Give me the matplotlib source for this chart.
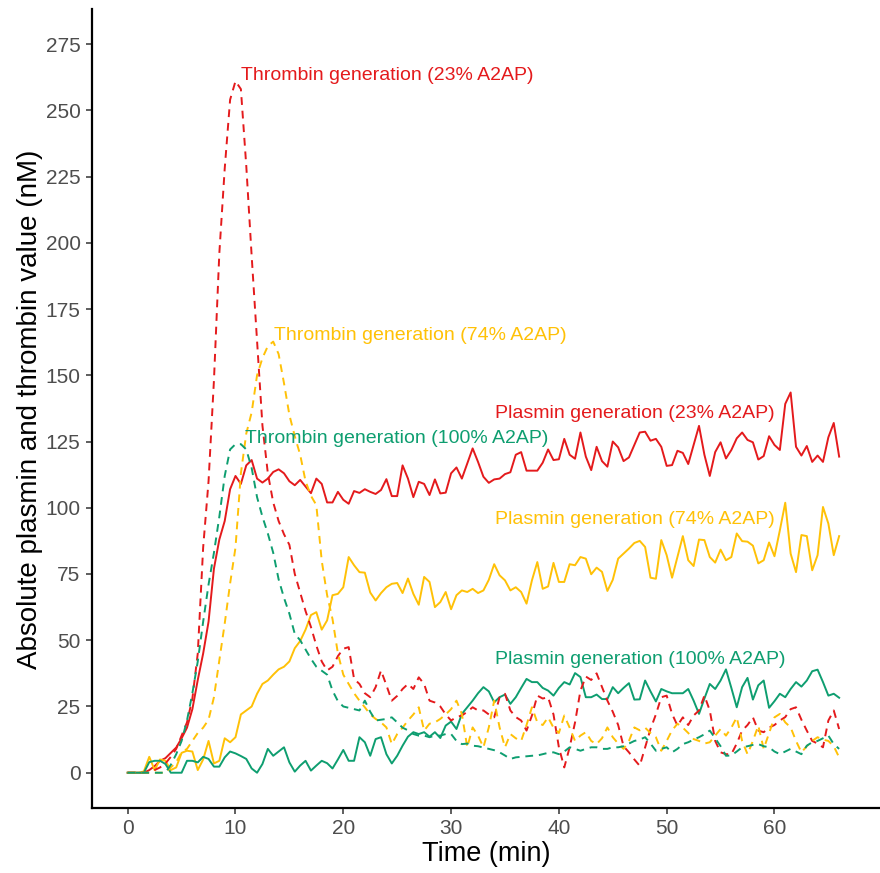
import matplotlib
matplotlib.use("Agg")
import matplotlib.pyplot as plt
import numpy as np

# sampling every 30 s from 0 to 66 min
time_min = np.arange(0, 66.5, 0.5)

plasmin_23 = [
    0, 0, 0, 0, 1, 2.5, 4.5, 5.5, 7.5, 9.5,
    13, 17, 24, 35, 45, 57, 77, 88, 95, 107,
    112, 109, 116, 118, 111, 109.5, 111, 113.5, 114.5, 113,
    110, 108.5, 110.5, 108, 105.5, 111, 109, 102, 102, 106,
    103, 101.5, 106.3, 105.6, 107, 106, 105.2, 106.7, 110.8, 104.4,
    104.4, 116, 111, 104, 109.8, 109, 104.8, 110.7, 105.4, 105.7,
    113, 115.2, 111, 116.7, 122.4, 117.3, 111.7, 109.4, 110.7, 111,
    112.7, 113.4, 120, 121, 114, 114, 114, 117, 122, 118,
    118.3, 126, 120, 118.5, 128.4, 119.3, 114.2, 123, 117.6, 115.5,
    125, 122.8, 117.6, 119, 123.7, 128.4, 128.7, 125.3, 126, 123,
    115.8, 116.1, 121.5, 120.7, 116.5, 123.7, 130.9, 120, 112, 121,
    124.7, 118.6, 121.8, 126.2, 128.4, 125.6, 124.7, 118.2, 119.5, 127,
    123.7, 121.8, 139.2, 143.5, 123, 119.7, 123.3, 117.3, 119.7, 117.3,
    126.6, 132, 119.3,
]
plasmin_74 = [
    0, 0, 0, 0.5, 6, 1, 5, 4.5, 1, 2,
    7.5, 8.3, 8, 1, 5, 12, 3.5, 4.5, 13, 11.5,
    13.4, 22, 23.5, 25, 29.8, 33.5, 34.8, 37, 39, 40,
    42, 47, 49.7, 54, 59.5, 60.6, 54, 57.5, 67, 67.5,
    70, 81.4, 78.3, 75.7, 75.5, 68, 65, 67.8, 70, 71.3,
    71.6, 67.8, 73.3, 67.5, 63.4, 73.9, 72, 62.5, 64.4, 68.2,
    61.7, 67, 68.8, 68.2, 69.4, 67.8, 68.8, 72.8, 78.7, 74.5,
    72.6, 68.8, 70, 68.2, 63.8, 72.6, 79.5, 69.4, 70.3, 79.2,
    72, 72, 78.7, 78.3, 81.4, 80.8, 74.9, 77.4, 75.8, 68.6,
    72.8, 80.8, 82.7, 84.6, 86.7, 87.5, 85.2, 73.6, 73.2, 87.8,
    82.1, 73.6, 81.4, 89.3, 80.2, 78, 88, 87.8, 81.4, 79.3,
    84.2, 80.2, 81.4, 90.3, 87.4, 87.2, 85.7, 79, 80.2, 86.9,
    81.7, 91.5, 101.9, 82.7, 75.7, 89.7, 89.3, 76.4, 82.1, 100.3,
    94, 82.1, 89.3,
]
plasmin_100 = [
    0, 0, 0, 0, 4, 4.5, 4.5, 3.3, 0, 0,
    0, 4.5, 4.5, 3.9, 6, 5.2, 2.3, 2.3, 5.8, 8,
    7.3, 6.3, 5.2, 1.6, 0, 3.3, 9, 6.4, 8, 9.6,
    3.9, 0.4, 2.7, 4.5, 0.8, 2.7, 4.5, 3.6, 1.6, 5,
    8.6, 4.5, 4.5, 13.4, 11.5, 6.4, 12.7, 13.4, 7, 3.5,
    6.4, 10.2, 13.6, 15.3, 14.6, 15.3, 13.6, 15.3, 13.1, 17.8,
    19.3, 16.5, 22.2, 24.7, 27.2, 30, 32.3, 30.7, 26.6, 28.5,
    29.5, 26, 28.5, 32, 35.4, 34.2, 34.2, 32, 31, 29.1,
    32, 34.2, 33.3, 37.6, 36.1, 28.5, 28.5, 29.5, 27.8, 27.8,
    32.3, 30, 32, 33.8, 27.6, 27.7, 34.8, 30.7, 26.9, 31.6,
    30.7, 30, 30, 30, 31.6, 27.2, 22.2, 28, 33.5, 31.6,
    34.8, 39, 32, 24.7, 32.3, 35.8, 27.6, 33, 34.8, 24.5,
    27, 29.8, 28.5, 31.6, 34.2, 32.5, 34.8, 38.3, 38.9, 34.2,
    29.1, 29.8, 28.3,
]
thrombin_23 = [
    0, 0, 0, 0, 0, 1, 2, 3.5, 6, 9,
    14, 19, 28, 45, 85, 110, 148, 196, 228, 254,
    261, 258, 229, 195, 163, 131, 113, 102, 95, 90,
    86, 75, 68, 61, 55, 48, 42, 38.6, 40, 44,
    46.8, 47.4, 35.4, 33.5, 30, 28.5, 32.3, 38.6, 33, 27.2,
    29, 31.6, 33.5, 31.6, 36, 33.5, 27.2, 26.5, 25, 22,
    19.7, 21, 21.6, 23, 24.7, 23.5, 23.5, 22, 20.9, 28.5,
    29.8, 23.5, 21, 19.7, 15.9, 21.6, 29.1, 28, 28.5, 22,
    9.6, 2, 9.6, 19, 31, 36.3, 35, 37.5, 32.3, 27.2,
    23, 18, 10, 7.7, 5, 2.6, 9.6, 16.5, 22, 28.5,
    29.1, 22.2, 17.8, 20.9, 18, 21.6, 23.5, 29.1, 23.5, 12,
    7.7, 7, 7, 11, 15.9, 18, 20.9, 15.9, 15.3, 17,
    18, 19.7, 21, 24, 24.7, 20, 15.9, 12, 11, 9.6,
    19.7, 23.5, 16.5,
]
thrombin_74 = [
    0, 0, 0, 0, 0, 0, 0, 0, 2, 4,
    7.7, 9, 12, 15, 17, 20, 28.5, 42.4, 56.3, 71.4,
    85, 113, 128, 136, 150, 156.5, 161, 162.7, 158, 147,
    135, 127, 120, 110, 104.5, 101, 80, 67, 58, 45,
    37, 33.5, 30, 27.2, 24.7, 22, 20.3, 19, 17.1, 10.8,
    14.6, 17, 19.7, 22, 24.7, 15.9, 18.5, 19, 20.3, 22,
    24, 27.2, 22.2, 9.6, 17.1, 14, 9.6, 17.1, 27.2, 17.1,
    9.6, 14.6, 13, 12, 18, 24.7, 19, 18, 20.9, 17,
    15, 21.6, 17, 12, 14, 15.3, 12, 10.8, 13, 17.1,
    13.4, 11, 9, 12, 17.1, 16, 17, 15, 13.4, 8.3,
    12, 16, 18.5, 17, 15, 12.7, 12, 11, 11.5, 14,
    16.5, 14, 17, 20.9, 12, 7, 12, 17.8, 9, 15,
    20.9, 22.2, 19, 17.1, 12, 7.7, 10, 12, 13.4, 12.5,
    12, 10, 5.8,
]
thrombin_100 = [
    0, 0, 0, 0, 0, 0, 0, 0, 3, 7,
    12, 19.7, 30, 42, 57, 71, 83, 96.6, 112, 122,
    124, 124, 122, 115, 104, 96.6, 90.3, 83, 73, 66,
    60, 52.4, 50, 46.5, 43, 40, 38.5, 37, 31, 27,
    25, 24.5, 24, 23.5, 27.2, 23, 19.7, 20, 20.3, 20.9,
    19, 17, 16, 14.6, 14, 14, 13.4, 14, 14, 14.6,
    14.6, 12, 10.8, 11, 10.2, 10, 9.5, 9, 8.5, 7.7,
    6.5, 5.2, 5.8, 6, 6.2, 6.4, 6.5, 7, 7.5, 7.7,
    7, 8, 9.6, 9, 8.3, 9, 9.6, 9.6, 9, 9,
    9.6, 9.6, 10, 11, 12, 12.5, 13.4, 11, 8.3, 9,
    9.6, 7.7, 9, 10.8, 11.5, 12.5, 13.4, 14.5, 15.9, 13,
    10, 6.4, 6.5, 8, 9.6, 10, 10.5, 10.8, 10, 9.6,
    8, 7, 8, 9, 8, 7, 10.2, 11.5, 12, 13,
    14, 10.8, 9,
]

RED = "#E41A1C"
YELLOW = "#FFC107"
GREEN = "#0E9E70"

series = [
    (plasmin_23, RED, "-"),
    (plasmin_74, YELLOW, "-"),
    (plasmin_100, GREEN, "-"),
    (thrombin_23, RED, (0, (4, 3))),
    (thrombin_74, YELLOW, (0, (4, 3))),
    (thrombin_100, GREEN, (0, (4, 3))),
]

# label text with its anchor (left edge, vertical centre)
labels = [
    ("Thrombin generation (23% A2AP)", 10.5, 263.3, RED),
    ("Thrombin generation (74% A2AP)", 13.6, 165.0, YELLOW),
    ("Thrombin generation (100% A2AP)", 10.9, 126.0, GREEN),
    ("Plasmin generation (23% A2AP)", 34.1, 135.7, RED),
    ("Plasmin generation (74% A2AP)", 34.1, 95.4, YELLOW),
    ("Plasmin generation (100% A2AP)", 34.1, 42.9, GREEN),
]

plt.rcParams["font.family"] = ["Liberation Sans", "DejaVu Sans"]

fig = plt.figure(figsize=(8.8, 8.73), dpi=100)
ax = fig.add_axes([0.1042, 0.0741, 0.8958, 0.9152])

for values, color, style in series:
    ax.plot(time_min, values, color=color, linestyle=style, linewidth=1.4)

for text, x, y, color in labels:
    ax.text(x, y, text, color=color, fontsize=14, ha="left", va="center")

ax.set_xlim(-3.34, 69.79)
ax.set_ylim(-13.43, 288.1)
ax.set_xticks(np.arange(0, 61, 10))
ax.set_yticks(np.arange(0, 276, 25))

for side in ("top", "right"):
    ax.spines[side].set_visible(False)
for side in ("left", "bottom"):
    ax.spines[side].set_linewidth(1.6)
    ax.spines[side].set_color("black")

ax.tick_params(axis="both", direction="out", length=4, width=1.1,
               color="#333333", labelcolor="#4D4D4D", labelsize=15, pad=4)

ax.set_xlabel("Time (min)", fontsize=19.5, labelpad=2)
ax.set_ylabel("Absolute plasmin and thrombin value (nM)", fontsize=20, labelpad=2)

fig.savefig("out.png", dpi=100)
